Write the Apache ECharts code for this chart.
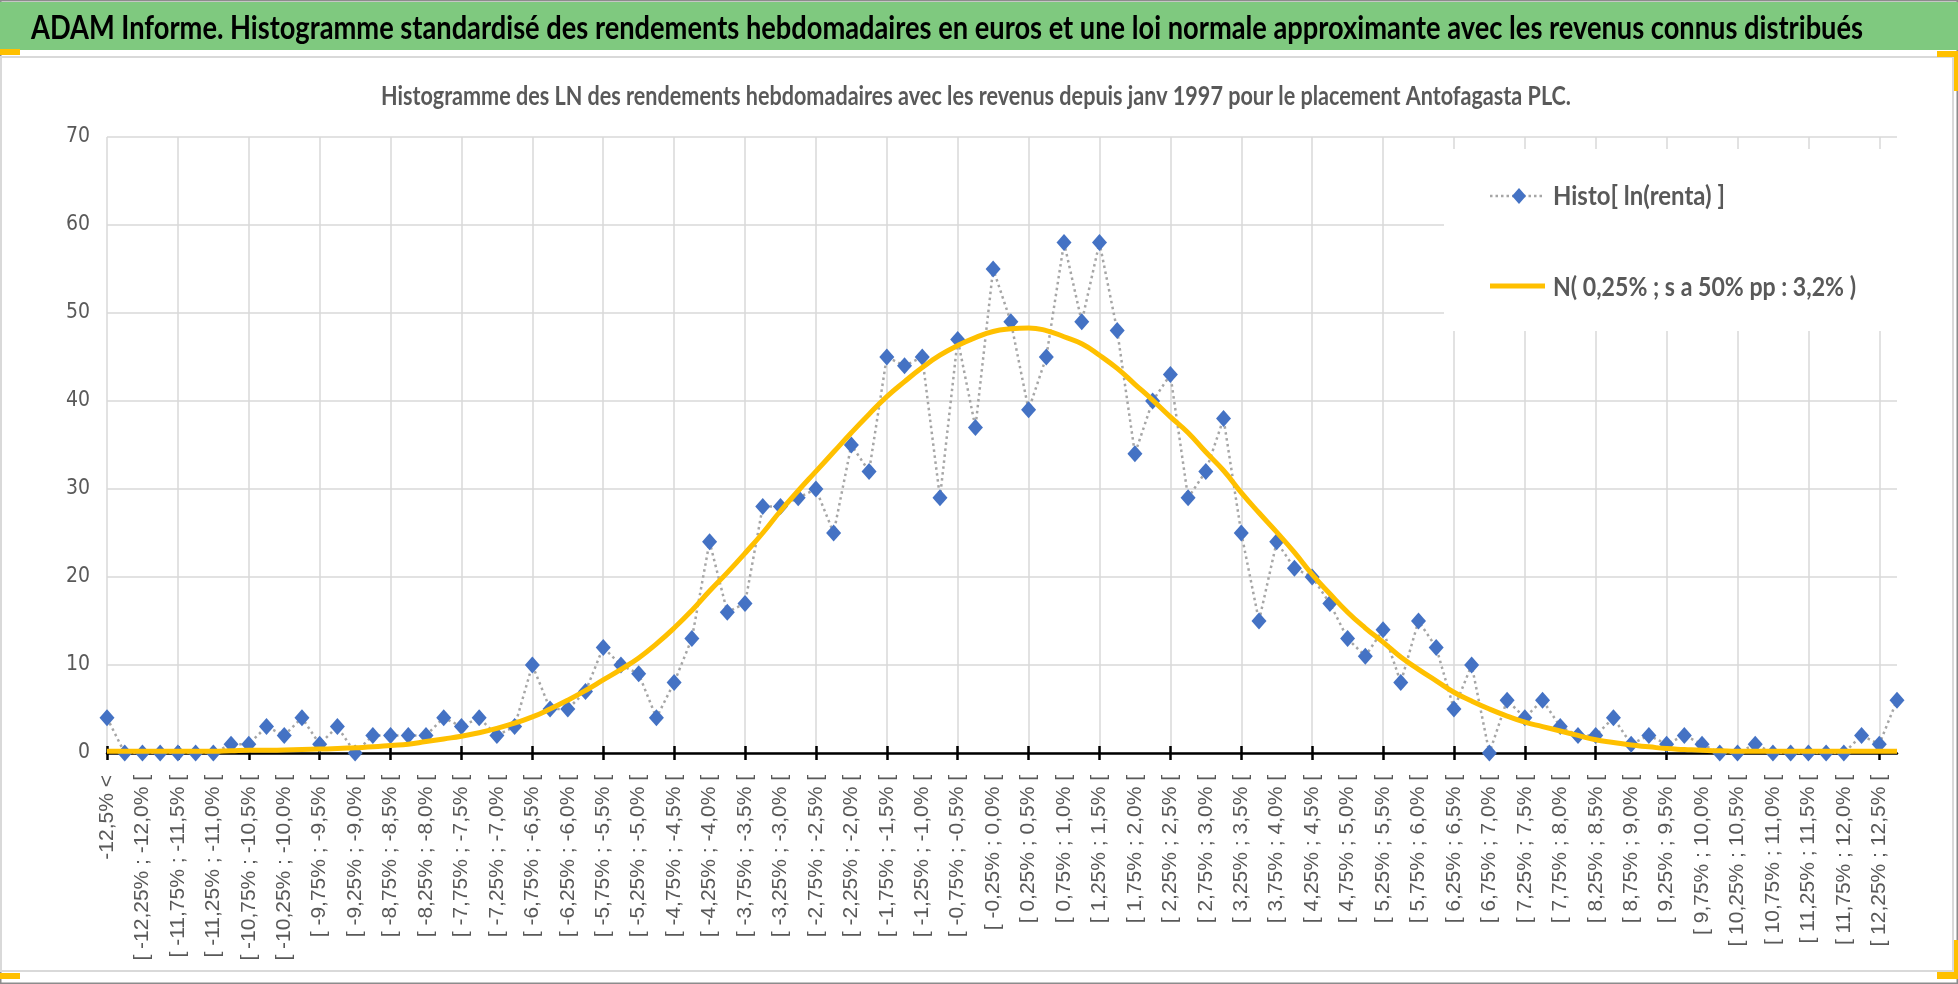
<!DOCTYPE html>
<html>
<head>
<meta charset="utf-8">
<title>ADAM Informe - Antofagasta PLC</title>
<script src="https://cdn.jsdelivr.net/npm/echarts@6/dist/echarts.min.js"></script>
<style>
    html, body { margin: 0; padding: 0; background: #fff; }
    #chart { width: 1958px; height: 984px; }
</style>
</head>
<body>
<div id="chart"></div>
<script>
    // titres
    var mainTitle = 'ADAM Informe. Histogramme standardisé des rendements hebdomadaires en euros et une loi normale approximante avec les revenus connus distribués';
    var subTitle = 'Histogramme des LN des rendements hebdomadaires avec les revenus depuis janv 1997 pour le placement Antofagasta PLC.';
    var histName = 'Histo[ ln(renta) ]';
    var normName = 'N( 0,25% ; s a 50% pp : 3,2% )';

    // bornes des classes (pas de 0,25%)
    var binStart = -12.5;
    var binStep = 0.25;
    var binCount = 100;

    // effectifs
    var histo = [4, 0, 0, 0, 0, 0, 0, 1, 1, 3,
        2, 4, 1, 3, 0, 2, 2, 2, 2, 4,
        3, 4, 2, 3, 10, 5, 5, 7, 12, 10,
        9, 4, 8, 13, 24, 16, 17, 28, 28, 29,
        30, 25, 35, 32, 45, 44, 45, 29, 47, 37,
        55, 49, 39, 45, 58, 49, 58, 48, 34, 40,
        43, 29, 32, 38, 25, 15, 24, 21, 20, 17,
        13, 11, 14, 8, 15, 12, 5, 10, 0, 6,
        4, 6, 3, 2, 2, 4, 1, 2, 1, 2,
        1, 0, 0, 1, 0, 0, 0, 0, 0, 2,
        1, 6];

    // courbe normale
    var normale = [0.2, 0.2, 0.2, 0.2, 0.2, 0.2, 0.2, 0.25, 0.3, 0.3,
        0.35, 0.4, 0.45, 0.5, 0.6, 0.7, 0.85, 1.0, 1.3, 1.6,
        1.9, 2.3, 2.8, 3.4, 4.1, 5.0, 6.0, 7.1, 8.3, 9.5,
        10.8, 12.4, 14.2, 16.2, 18.4, 20.5, 22.7, 25.0, 27.5, 29.8,
        32.0, 34.2, 36.4, 38.5, 40.5, 42.2, 43.8, 45.2, 46.3, 47.2,
        47.9, 48.2, 48.3, 48.0, 47.3, 46.5, 45.2, 43.7, 41.9, 40.1,
        38.2, 36.4, 34.2, 32.1, 29.6, 27.3, 25.1, 22.8, 20.3, 18.1,
        16.0, 14.2, 12.6, 10.9, 9.5, 8.2, 6.9, 5.9, 5.0, 4.2,
        3.5, 3.0, 2.5, 2.0, 1.5, 1.2, 0.9, 0.7, 0.5, 0.4,
        0.3, 0.25, 0.2, 0.2, 0.2, 0.2, 0.2, 0.2, 0.2, 0.2,
        0.2, 0.2];

    var yMin = 0, yMax = 70, yStep = 10;

    function pct(v) {
        var s = (Math.round(v * 100) % 50 === 0) ? v.toFixed(1) : v.toFixed(2);
        return s.replace('.', ',') + '%';
    }

    var categories = [pct(binStart) + ' <'];
    for (var k = 0; k < binCount; k++) {
        var a = binStart + binStep * k;
        categories.push('[ ' + pct(a) + ' ; ' + pct(a + binStep) + ' [');
    }
    categories.push(pct(binStart + binStep * binCount) + ' >=');

    // largeur mesurée du texte pour le resserrer comme l'original
    var ctx = document.createElement('canvas').getContext('2d');
    function fitScale(text, font, width) {
        ctx.font = font;
        return width / ctx.measureText(text).width;
    }

    var fTitle = 'bold 33px Lato';
    var fSub = 'bold 26px Lato';
    var fLeg = 'bold 27px Lato';

    function txt(text, font, x, y, width, color, align) {
        return {
            type: 'text', x: x, y: y, z: 20,
            scaleX: fitScale(text, font, width),
            style: {
                text: text, font: font, fill: color,
                align: align, textAlign: align,
                verticalAlign: 'middle', textVerticalAlign: 'middle'
            }
        };
    }

    var myChart = echarts.init(document.getElementById('chart'));

    var option = {
        backgroundColor: '#ffffff',
        animation: false,
        grid: {left: 107, right: 61, top: 137, bottom: 231, containLabel: false},
        xAxis: [
            {
                type: 'category',
                data: categories,
                boundaryGap: false,
                axisLine: {show: true, lineStyle: {color: '#000000', width: 2.5}},
                axisTick: {show: true, interval: 3, length: 7, lineStyle: {color: '#000000', width: 2.5}},
                axisLabel: {
                    interval: 1, rotate: 90, margin: 22,
                    color: '#595959', fontSize: 21, fontFamily: 'Liberation Sans, Arial, sans-serif'
                },
                splitLine: {show: true, interval: 3, lineStyle: {color: '#d9d9d9', width: 1.5}}
            },
            {
                type: 'category',
                data: categories,
                boundaryGap: false,
                position: 'bottom',
                axisLine: {show: false},
                axisTick: {show: true, inside: true, interval: 3, length: 7, lineStyle: {color: '#000000', width: 2.5}},
                axisLabel: {show: false},
                splitLine: {show: false}
            }
        ],
        yAxis: {
            type: 'value',
            min: yMin, max: yMax, interval: yStep,
            axisLine: {show: false},
            axisTick: {show: false},
            axisLabel: {
                margin: 17, color: '#595959', fontSize: 21,
                fontFamily: '"Liberation Sans Narrow", "DejaVu Sans Condensed", sans-serif'
            },
            splitLine: {lineStyle: {color: '#d9d9d9', width: 1.5}}
        },
        series: [
            {
                name: histName,
                type: 'line',
                data: histo,
                z: 2,
                symbol: 'diamond',
                symbolSize: [15, 17],
                showAllSymbol: true,
                itemStyle: {color: '#4472c4'},
                lineStyle: {color: '#a6a6a6', width: 2.5, type: [2.5, 3.5]}
            },
            {
                name: normName,
                type: 'line',
                data: normale,
                z: 3,
                smooth: true,
                showSymbol: false,
                symbol: 'none',
                lineStyle: {color: '#ffc000', width: 5}
            }
        ],
        graphic: [
            // cadre
            {type: 'rect', z: 1, shape: {x: 0.75, y: 0.75, width: 1956.5, height: 982.5},
                style: {fill: 'none', stroke: '#8c8c8c', lineWidth: 1.5}},
            {type: 'rect', z: 1, shape: {x: 1, y: 57, width: 1952, height: 914},
                style: {fill: 'none', stroke: '#d9d9d9', lineWidth: 2}},
            {type: 'rect', z: 5, shape: {x: 0, y: 2, width: 1958, height: 48},
                style: {fill: '#7fc97f'}},
            {type: 'rect', z: 6, shape: {x: 0, y: 49, width: 20, height: 6}, style: {fill: '#ffc000'}},
            {type: 'rect', z: 6, shape: {x: 1937, y: 51, width: 21, height: 6}, style: {fill: '#ffc000'}},
            {type: 'rect', z: 6, shape: {x: 1954, y: 51, width: 4, height: 40}, style: {fill: '#ffc000'}},
            {type: 'rect', z: 6, shape: {x: 0, y: 973, width: 20, height: 6}, style: {fill: '#ffc000'}},
            {type: 'rect', z: 6, shape: {x: 1937, y: 972, width: 21, height: 7}, style: {fill: '#ffc000'}},
            {type: 'rect', z: 6, shape: {x: 1954, y: 940, width: 4, height: 39}, style: {fill: '#ffc000'}},

            // titres
            txt(mainTitle, fTitle, 31, 28, 1832, '#000000', 'left'),
            txt(subTitle, fSub, 976, 97, 1190, '#595959', 'center'),

            // légende
            {type: 'rect', z: 10, shape: {x: 1444, y: 149, width: 456, height: 182}, style: {fill: '#ffffff'}},
            {type: 'line', z: 11, shape: {x1: 1490, y1: 196, x2: 1543, y2: 196},
                style: {stroke: '#a6a6a6', lineWidth: 2.5, lineDash: [2.5, 3]}},
            {type: 'polygon', z: 12, shape: {points: [[1519, 188], [1526, 196], [1519, 204], [1512, 196]]},
                style: {fill: '#4472c4'}},
            txt(histName, fLeg, 1553, 196, 172, '#595959', 'left'),
            {type: 'line', z: 11, shape: {x1: 1490, y1: 286, x2: 1545, y2: 286},
                style: {stroke: '#ffc000', lineWidth: 5}},
            txt(normName, fLeg, 1553, 287, 303, '#595959', 'left')
        ]
    };

    myChart.setOption(option);
</script>
</body>
</html>
